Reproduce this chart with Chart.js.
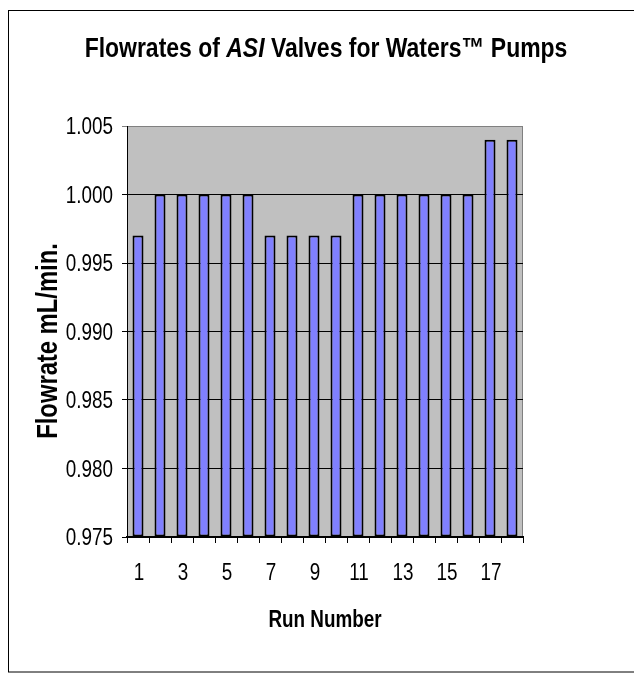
<!DOCTYPE html>
<html>
<head>
<meta charset="utf-8">
<script src="https://cdn.jsdelivr.net/npm/chart.js@4.4.1/dist/chart.umd.min.js"></script>
<style>
  html, body { margin: 0; padding: 0; background: #fff; }
  canvas { display: block; }
</style>
</head>
<body>
<canvas id="flowChart" width="634" height="674"></canvas>
<script>
// values
const runNumbers = ['1', '2', '3', '4', '5', '6', '7', '8', '9', '10',
                    '11', '12', '13', '14', '15', '16', '17', '18'];
const flowrates = [0.997, 1.000, 1.000, 1.000, 1.000, 1.000, 0.997, 0.997, 0.997,
                   0.997, 1.000, 1.000, 1.000, 1.000, 1.000, 1.000, 1.004, 1.004];
const yMin = 0.975;
const yMax = 1.005;
const yStep = 0.005;

const titleParts = [
    { text: 'Flowrates of ', italic: false },
    { text: 'ASI', italic: true },
    { text: ' Valves for Waters\u2122 Pumps', italic: false }
];
const yTitle = 'Flowrate mL/min.';
const xTitle = 'Run Number';

const FONT = "'Liberation Sans', Arial, sans-serif";
const SQUEEZE = 0.82; // the original text is horizontally condensed

// draws text squeezed horizontally around its anchor
function squeezed(ctx, text, x, y, align) {
    ctx.save();
    ctx.translate(x, y);
    ctx.scale(SQUEEZE, 1);
    ctx.textAlign = align;
    ctx.fillText(text, 0, 0);
    ctx.restore();
}

// plot background, frame, tick labels and titles
const decorations = {
    id: 'decorations',
    beforeDraw(chart) {
        const { ctx, chartArea: a } = chart;
        ctx.save();
        ctx.fillStyle = '#c0c0c0';
        ctx.fillRect(a.left, a.top, a.right - a.left, a.bottom - a.top);
        ctx.strokeStyle = '#808080';
        ctx.lineWidth = 1;
        ctx.strokeRect(a.left + 0.5, a.top + 0.5, a.right - a.left - 1, a.bottom - a.top);
        ctx.restore();
    },
    afterDraw(chart) {
        const { ctx } = chart;
        const xs = chart.scales.x;
        const ys = chart.scales.y;
        ctx.save();
        // outer frame (right edge runs off the picture)
        ctx.strokeStyle = '#000';
        ctx.lineWidth = 1;
        ctx.strokeRect(8.5, 10.5, 640, 661.5);

        ctx.fillStyle = '#000';
        ctx.textBaseline = 'alphabetic';

        // tick labels, positioned by the chart's own scales
        ctx.font = '23px ' + FONT;
        ys.ticks.forEach((t, i) => {
            squeezed(ctx, t.value.toFixed(3), 113, ys.getPixelForTick(i) + 8, 'right');
        });
        runNumbers.forEach((lbl, i) => {
            if (i % 2 === 0) {
                squeezed(ctx, lbl, xs.getPixelForValue(i) + 1, 580, 'center');
            }
        });

        // title with italic ASI
        let total = 0;
        titleParts.forEach(p => {
            ctx.font = (p.italic ? 'italic ' : '') + 'bold 28px ' + FONT;
            p.w = ctx.measureText(p.text).width;
            total += p.w;
        });
        ctx.save();
        ctx.translate(326 - total * SQUEEZE / 2, 57);
        ctx.scale(SQUEEZE, 1);
        ctx.textAlign = 'left';
        let x = 0;
        titleParts.forEach(p => {
            ctx.font = (p.italic ? 'italic ' : '') + 'bold 28px ' + FONT;
            ctx.fillText(p.text, x, 0);
            x += p.w;
        });
        ctx.restore();

        // axis titles
        ctx.font = 'bold 23px ' + FONT;
        squeezed(ctx, xTitle, 325, 627, 'center');

        ctx.translate(57, 341);
        ctx.rotate(-Math.PI / 2);
        ctx.font = 'bold 29px ' + FONT;
        squeezed(ctx, yTitle, 0, 0, 'center');
        ctx.restore();
    }
};

new Chart(document.getElementById('flowChart'), {
    type: 'bar',
    data: {
        labels: runNumbers,
        datasets: [{
            data: flowrates,
            base: yMin,
            backgroundColor: '#8080ff',
            borderColor: '#000',
            borderWidth: 2,
            borderSkipped: false,
            categoryPercentage: 1.0,
            barPercentage: 0.5
        }]
    },
    options: {
        responsive: false,
        animation: false,
        devicePixelRatio: 1,
        layout: {
            padding: { top: 126, left: 0, right: 111, bottom: 0 }
        },
        plugins: {
            legend: { display: false },
            title: { display: false },
            tooltip: { enabled: false }
        },
        scales: {
            x: {
                offset: true,
                afterFit: s => { s.height = 137; },
                grid: {
                    offset: true,
                    drawOnChartArea: false,
                    drawTicks: true,
                    tickLength: 6,
                    color: '#000'
                },
                border: { display: true, color: '#000', width: 2 },
                ticks: { display: false, autoSkip: false }
            },
            y: {
                min: yMin,
                max: yMax,
                afterFit: s => { s.width = 127; },
                grid: {
                    drawTicks: true,
                    tickLength: 5,
                    lineWidth: 1,
                    color: c => (c.tick && c.tick.value >= yMax - 1e-9) ? '#808080' : '#000'
                },
                border: { display: true, color: '#000', width: 1 },
                ticks: { display: false, stepSize: yStep }
            }
        }
    },
    plugins: [decorations]
});
</script>
</body>
</html>
